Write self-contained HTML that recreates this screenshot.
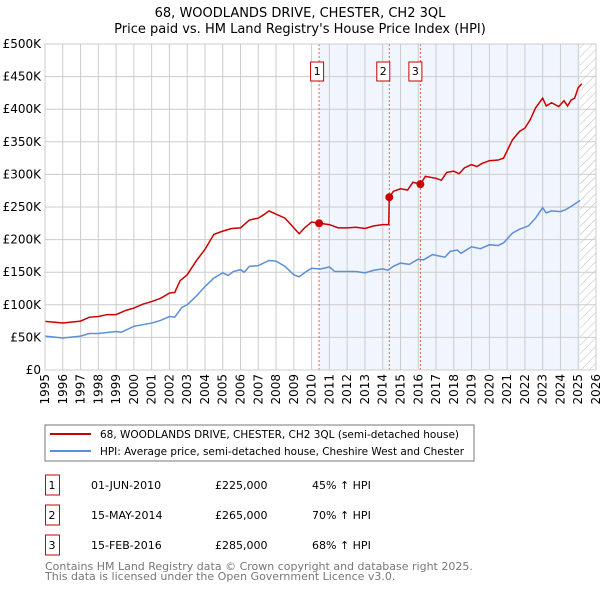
<!DOCTYPE html>
<html><head><meta charset="utf-8"><style>
body{margin:0;background:#fff;width:600px;height:590px;overflow:hidden;font-family:"DejaVu Sans","Liberation Sans",sans-serif}
svg text{font-family:"DejaVu Sans","Liberation Sans",sans-serif}
</style></head><body>
<svg id="c" width="600" height="590">
<text x="300" y="17" text-anchor="middle" font-size="13" fill="#000">68, WOODLANDS DRIVE, CHESTER, CH2 3QL</text>
<text x="300" y="33" text-anchor="middle" font-size="13" fill="#000">Price paid vs. HM Land Registry's House Price Index (HPI)</text>
<g id="g"></g>
<rect x="45" y="425" width="429" height="36" fill="#fff" stroke="#777"/>
<line x1="50" y1="434" x2="91" y2="434" stroke="#cc0000" stroke-width="2"/>
<text x="100" y="438" font-size="11" textLength="359" lengthAdjust="spacingAndGlyphs">68, WOODLANDS DRIVE, CHESTER, CH2 3QL (semi-detached house)</text>
<line x1="50" y1="451" x2="91" y2="451" stroke="#5b8fd6" stroke-width="2"/>
<text x="100" y="455" font-size="11" textLength="364" lengthAdjust="spacingAndGlyphs">HPI: Average price, semi-detached house, Cheshire West and Chester</text>
<g id="tbl" font-size="11"></g>
<text x="45" y="570" font-size="11" fill="#777">Contains HM Land Registry data © Crown copyright and database right 2025.</text>
<text x="45" y="580" font-size="11" fill="#777">This data is licensed under the Open Government Licence v3.0.</text>
</svg>
<script>
const yTicks=[0,50,100,150,200,250,300,350,400,450,500];
const years=[1995,1996,1997,1998,1999,2000,2001,2002,2003,2004,2005,2006,2007,2008,2009,2010,2011,2012,2013,2014,2015,2016,2017,2018,2019,2020,2021,2022,2023,2024,2025,2026];
const redT=[1995,1996,1997,1997.5,1998,1998.5,1999,1999.5,2000,2000.5,2001,2001.5,2002,2002.3,2002.6,2003,2003.5,2004,2004.5,2005,2005.5,2006,2006.5,2007,2007.3,2007.6,2008,2008.5,2009,2009.3,2009.6,2010,2010.42,2011,2011.5,2012,2012.5,2013,2013.5,2014,2014.34,2014.37,2014.6,2015,2015.4,2015.7,2016.12,2016.4,2017,2017.3,2017.6,2018,2018.3,2018.6,2019,2019.3,2019.6,2020,2020.5,2020.8,2021.3,2021.7,2022,2022.3,2022.6,2023,2023.2,2023.5,2023.9,2024.2,2024.4,2024.6,2024.8,2025,2025.2];
const redV=[74.6,72,75,81,82,85,85,91,95,101,105,110,118,119,137,146,167,185,208,213,217,218,230,233,238,244,239,233,218,209,218,227,225,223,218,218,219,217,221,223,223,265,274,278,276,288,285,297,294,291,303,305,301,310,315,312,317,321,322,325,353,366,371,384,402,417,405,410,404,413,405,414,417,433,439];
const bluT=[1995,1996,1997,1997.5,1998,1999,1999.3,2000,2001,2001.5,2002,2002.3,2002.7,2003,2003.5,2004,2004.5,2005,2005.3,2005.6,2006,2006.2,2006.5,2007,2007.6,2008,2008.5,2009,2009.3,2009.7,2010,2010.5,2011,2011.3,2012,2012.5,2013,2013.5,2014,2014.3,2014.6,2015,2015.5,2016,2016.3,2016.8,2017.5,2017.8,2018.2,2018.4,2019,2019.5,2020,2020.5,2020.8,2021.3,2021.7,2022.2,2022.6,2023,2023.2,2023.5,2024,2024.3,2024.6,2025.1];
const bluV=[52,49,52,56,56,59,58,67,72,76,82,81,96,100,113,128,141,149,145,151,154,150,159,160,168,167,159,146,143,151,156,155,158,151,151,151,149,153,155,153,159,164,162,170,169,177,173,182,184,179,189,186,192,191,195,210,216,221,233,249,241,244,243,246,251,260];
const saleT=[2010.42,2014.37,2016.12];
const saleV=[225,265,285];
const saleLabels=["1","2","3"];
const saleDates=["01-JUN-2010","15-MAY-2014","15-FEB-2016"];
const salePrices=["£225,000","£265,000","£285,000"];
const salePct=["45% ↑ HPI","70% ↑ HPI","68% ↑ HPI"];
const X0=45,X1=596,Y0=370,Y1=44;
const xs=t=>X0+(t-1995)/(2026-1995)*(X1-X0);
const ys=v=>Y0-v/500*(Y0-Y1);
const NS="http://www.w3.org/2000/svg";
const g=document.getElementById('g');
function mk(tag,a,p){const e=document.createElementNS(NS,tag);for(const k in a)e.setAttribute(k,a[k]);(p||g).appendChild(e);return e;}
const bg=mk('rect',{x:xs(saleT[0]),y:Y1,width:xs(2025.1)-xs(saleT[0]),height:Y0-Y1,fill:'#eef3fc',opacity:0.8});


const defs=mk('defs',{});
const pat=mk('pattern',{id:'h',width:6,height:6,patternUnits:'userSpaceOnUse',patternTransform:'rotate(45)'},defs);
mk('line',{x1:0,y1:0,x2:0,y2:6,stroke:'#bbb','stroke-width':1},pat);
const hat=mk('rect',{x:xs(2025.1),y:Y1,width:X1-xs(2025.1),height:Y0-Y1,fill:'url(#h)'});


yTicks.forEach(v=>{
 const l=mk('line',{x1:X0,x2:X1,y1:ys(v),y2:ys(v),stroke:'#ccc'});
 
 
 const t=mk('text',{x:X0-4,y:ys(v)+4,'text-anchor':'end','font-size':12});
 
 
 t.textContent=v===0?'£0':'£'+v+'K';
});
years.forEach(y=>{
 const l=mk('line',{x1:xs(y),x2:xs(y),y1:Y1,y2:Y0,stroke:'#ccc'});
 
 
 const t=mk('text',{x:0,y:0,'text-anchor':'end','font-size':12,transform:`translate(${xs(y)+4},${Y0+4}) rotate(-90)`});
 
 
 t.textContent=y;
});
saleT.forEach((t,i)=>{
 const l=mk('line',{x1:xs(t),x2:xs(t),y1:Y1,y2:Y0,stroke:'#e06060','stroke-dasharray':'2,2'});
 
 
 const r=mk('rect',{x:xs(t)-8.5+(i==1?-4:0)+(i==2?-3:0),y:62,width:13,height:19,fill:'#fff',stroke:'#cc0000'});
 
 
 const tx=mk('text',{x:xs(t)-2+(i==1?-4:0)+(i==2?-3:0),y:75,'text-anchor':'middle','font-size':11});
 
 
 tx.textContent=saleLabels[i];
});
const pb=mk('polyline',{points:bluT.map((t,i)=>xs(t)+','+ys(bluV[i])).join(' '),fill:'none',stroke:'#5b8fd6','stroke-width':1.5});


const pr=mk('polyline',{points:redT.map((t,i)=>xs(t)+','+ys(redV[i])).join(' '),fill:'none',stroke:'#cc0000','stroke-width':1.5});


saleT.forEach((t,i)=>{
 const c=mk('circle',{cx:xs(t),cy:ys(saleV[i]),r:4,fill:'#cc0000'});
 
 
});
const ax=mk('rect',{x:X0,y:Y1,width:X1-X0,height:Y0-Y1,fill:'none',stroke:'#ccc'});


const tb=document.getElementById('tbl');
saleT.forEach((t,i)=>{
 const y0=475+i*30;
 const r=mk('rect',{x:45.5,y:y0,width:14,height:20,fill:'#fff',stroke:'#cc0000'},tb);
 
 
 const cols=[[52,saleLabels[i],'middle'],[91,saleDates[i],'start'],[215,salePrices[i],'start'],[312,salePct[i],'start']];
 cols.forEach(c=>{
  const e=mk('text',{x:c[0],y:y0+14,'text-anchor':c[2]},tb);
  
  
  e.textContent=c[1];
 });
});
</script>
</body></html>
